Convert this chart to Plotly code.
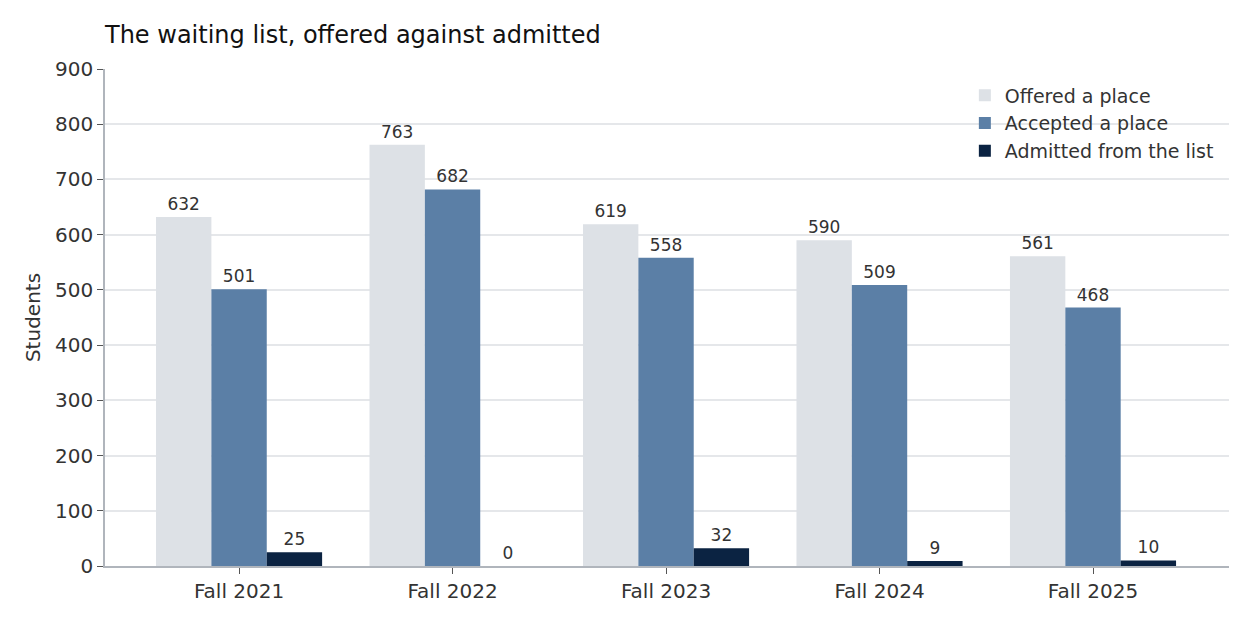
import plotly.graph_objects as go

categories = ["Fall 2021", "Fall 2022", "Fall 2023", "Fall 2024", "Fall 2025"]
offered = [632, 763, 619, 590, 561]
accepted = [501, 682, 558, 509, 468]
admitted = [25, 0, 32, 9, 10]
series_names = ["Offered a place", "Accepted a place", "Admitted from the list"]
colors = ["#dde1e6", "#5b7fa6", "#0b2342"]

fig = go.Figure()
for name, vals, c in zip(series_names, [offered, accepted, admitted], colors):
    fig.add_trace(go.Bar(
        x=categories, y=vals, name=name, marker=dict(color=c, line=dict(width=0)),
        text=[str(v) for v in vals], textposition="outside", cliponaxis=False,
        textfont=dict(size=17, color="#333333"),
    ))

fig.update_layout(
    width=1250, height=625,
    barmode="group", bargap=0.222, bargroupgap=0,
    plot_bgcolor="white", paper_bgcolor="white",
    font=dict(family="DejaVu Sans", color="#333333", size=19),
    title=dict(text="The waiting list, offered against admitted", xref="container", x=0.0776,
               xanchor="left", yref="container", y=0.958, yanchor="middle",
               font=dict(size=24, color="#111111")),
    margin=dict(l=97, r=29, t=61, b=67, autoexpand=False),
    legend=dict(x=0.765, xanchor="left", y=0.985, yanchor="top", bgcolor="rgba(0,0,0,0)",
                font=dict(size=19, color="#333333")),
    uniformtext=dict(mode=False),
)
fig.update_xaxes(range=[-0.628, 4.637], showline=True, linecolor="#b0b5bc", linewidth=1.5,
                 ticks="outside", ticklen=6, tickcolor="#555555", showgrid=False,
                 tickfont=dict(size=20))
fig.update_yaxes(range=[0, 900], dtick=100, showline=True, linecolor="#b0b5bc", linewidth=1.5,
                 ticks="outside", ticklen=6, tickcolor="#555555", gridcolor="#e5e7ea",
                 gridwidth=1.5, zeroline=False, tickfont=dict(size=20),
                 title=dict(text="Students", font=dict(size=20), standoff=9))

fig.write_html("out.html")
